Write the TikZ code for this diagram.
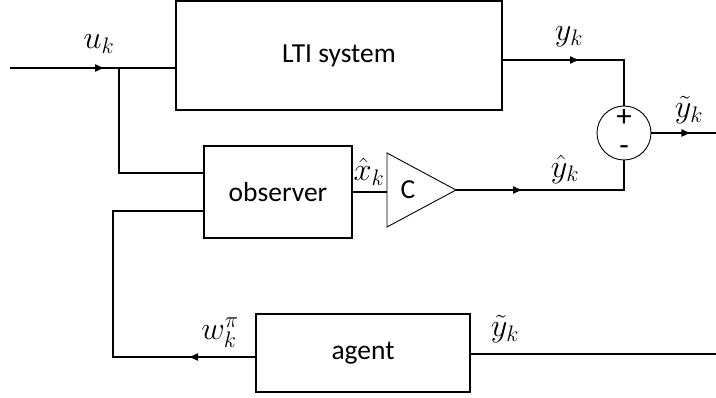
\documentclass[tikz,border=0pt]{standalone}
\usepackage{graphicx}
\usepackage{fontspec}
\setmainfont{Carlito}
\usetikzlibrary{arrows.meta,decorations.markings}

% signal names: math at the largest built-in size, enlarged
\newcommand{\signame}[1]{\scalebox{1.3}{$#1$}}

\tikzset{
  sigtip/.tip={Latex[length=10pt,width=8pt]},
  blk/.style={draw, line width=1.4pt, rectangle, inner sep=0pt,
              font=\fontsize{27.5}{32}\selectfont},
  wire/.style={line width=1.4pt},
  arrowat/.style={postaction={decorate},
    decoration={markings, mark=at position #1 with {\arrow{sigtip}}}},
  lbl/.style={font=\fontsize{24}{28}\selectfont, inner sep=0pt},
  sumop/.style={font=\fontsize{31}{36}\selectfont, inner sep=0pt},
}

\begin{document}
\begin{tikzpicture}[x=1pt, y=-1pt]
  \useasboundingbox (0,0) rectangle (716,398);

  % blocks
  \node[blk, minimum width=326pt, minimum height=109pt] (lti) at (339,55.5) {LTI system};
  \node[blk, minimum width=148pt, minimum height=92pt] (obs) at (278,192) {observer};
  \node[blk, minimum width=214pt, minimum height=78pt] (agent) at (363,353) {agent};
  \node[draw, circle, line width=0.9pt, minimum size=54pt, inner sep=0pt] (sum) at (624,133) {};
  \node[sumop] (plus) at (624,118) {+};
  \node[sumop] (minus) at (624,151) {-};

  % gain block C
  \coordinate (gtop) at (387,153);
  \coordinate (gbot) at (387,227);
  \coordinate (gtip) at (456,190);
  \coordinate (gin) at (387,192);
  \draw[line width=0.9pt] (gtop) -- (gtip) -- (gbot) -- cycle;
  \node[font=\fontsize{27.5}{32}\selectfont, inner sep=0pt] (gain) at (408,190) {C};

  % terminal and junction points
  \coordinate (uin) at (10,68);
  \coordinate (ujn) at (119,68);
  \coordinate (ltiin) at (176,68);
  \coordinate (ltiout) at (502,60);
  \coordinate (obsu) at (204,173);
  \coordinate (obsw) at (204,211);
  \coordinate (yout) at (716,133);
  \coordinate (yfb) at (716,354);
  \coordinate (agin) at (470,354);
  \coordinate (agout) at (256,357);
  \coordinate (wcorner) at (113,357);

  % connectors
  \draw[wire, arrowat=95pt] (uin) -- (ujn);
  \draw[wire] (ujn) -- (ltiin);
  \draw[wire] (ujn) |- (obsu);
  \draw[wire, arrowat=78pt] (ltiout) -| (sum.north);
  \draw[wire, arrowat=40pt] (sum.east) -- (yout);
  \draw[wire] (obs.east) -- (gin);
  \draw[wire, arrowat=67pt] (gtip) -| (sum.south);
  \draw[wire] (yfb) -- (agin);
  \draw[wire, arrowat=68pt] (agout) -- (wcorner) |- (obsw);

  % signal labels
  \node[lbl] (lu) at (99,44) {\signame{u_k}};
  \node[lbl] (ly) at (569,37) {\signame{y_k}};
  \node[lbl] (lyt) at (689,110) {\signame{\tilde{y}_k}};
  \node[lbl] (lyh) at (565,169) {\signame{\hat{y}_k}};
  \node[lbl] (lxh) at (369,172) {\signame{\hat{x}_k}};
  \node[lbl] (lyt2) at (505,329) {\signame{\tilde{y}_k}};
  \node[lbl] (lw) at (220,333) {\signame{w_k^{\pi}}};
\end{tikzpicture}
\end{document}
